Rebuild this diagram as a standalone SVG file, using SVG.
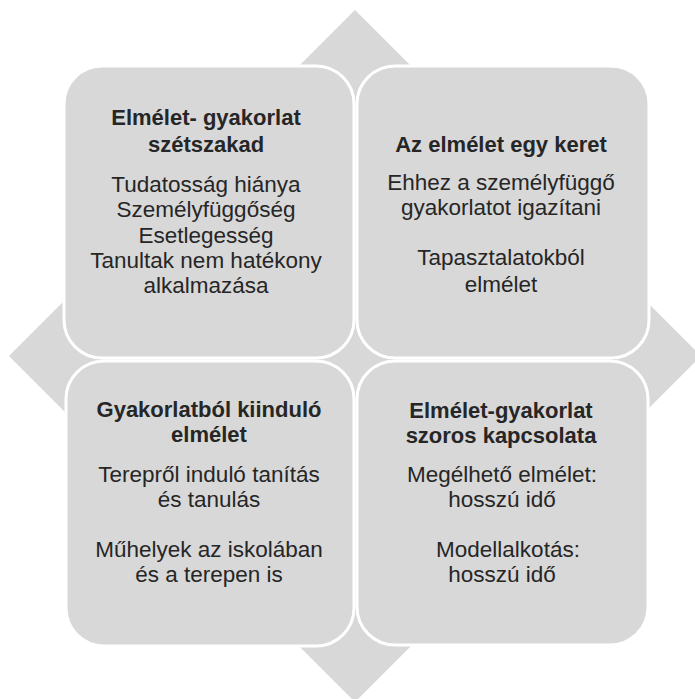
<svg xmlns="http://www.w3.org/2000/svg" width="695" height="699" viewBox="0 0 695 699">
<style>
.bg{fill:#d8d8d8}
.box{fill:#d8d8d8;stroke:#ffffff;stroke-width:3}
text{font-family:"Liberation Sans",Arial,sans-serif;fill:#262626;text-anchor:middle;font-size:22.5px}
.t{font-weight:bold;font-size:22px}
</style>
<rect width="695" height="699" fill="#ffffff"/>
<polygon class="bg" points="355,10 701,356 355,702 9,356"/>
<g id="node-tl">
<rect class="box" x="64" y="66" width="290" height="292" rx="38"/>
<text class="t" x="206" y="125">Elmélet- gyakorlat</text>
<text class="t" x="206" y="152">szétszakad</text>
<text x="206" y="192">Tudatosság hiánya</text>
<text x="206" y="217">Személyfüggőség</text>
<text x="206" y="243">Esetlegesség</text>
<text x="206" y="268">Tanultak nem hatékony</text>
<text x="206" y="293">alkalmazása</text>
</g>
<g id="node-tr">
<rect class="box" x="357" y="66" width="292" height="292" rx="38"/>
<text class="t" x="501" y="152">Az elmélet egy keret</text>
<text x="501" y="190">Ehhez a személyfüggő</text>
<text x="501" y="215">gyakorlatot igazítani</text>
<text x="501" y="265">Tapasztalatokból</text>
<text x="501" y="292">elmélet</text>
</g>
<g id="node-bl">
<rect class="box" x="66" y="361" width="288" height="285" rx="38"/>
<text class="t" x="209" y="417">Gyakorlatból kiinduló</text>
<text class="t" x="209" y="442">elmélet</text>
<text x="209" y="482">Terepről induló tanítás</text>
<text x="209" y="507">és tanulás</text>
<text x="209" y="557">Műhelyek az iskolában</text>
<text x="209" y="582">és a terepen is</text>
</g>
<g id="node-br">
<rect class="box" x="357" y="361" width="291" height="284" rx="38"/>
<text class="t" x="501" y="418">Elmélet-gyakorlat</text>
<text class="t" x="501" y="443">szoros kapcsolata</text>
<text x="502" y="482">Megélhető elmélet:</text>
<text x="502" y="507">hosszú idő</text>
<text x="508" y="557">Modellalkotás:</text>
<text x="502" y="582">hosszú idő</text>
</g>
<g id="connectors"></g>
</svg>
